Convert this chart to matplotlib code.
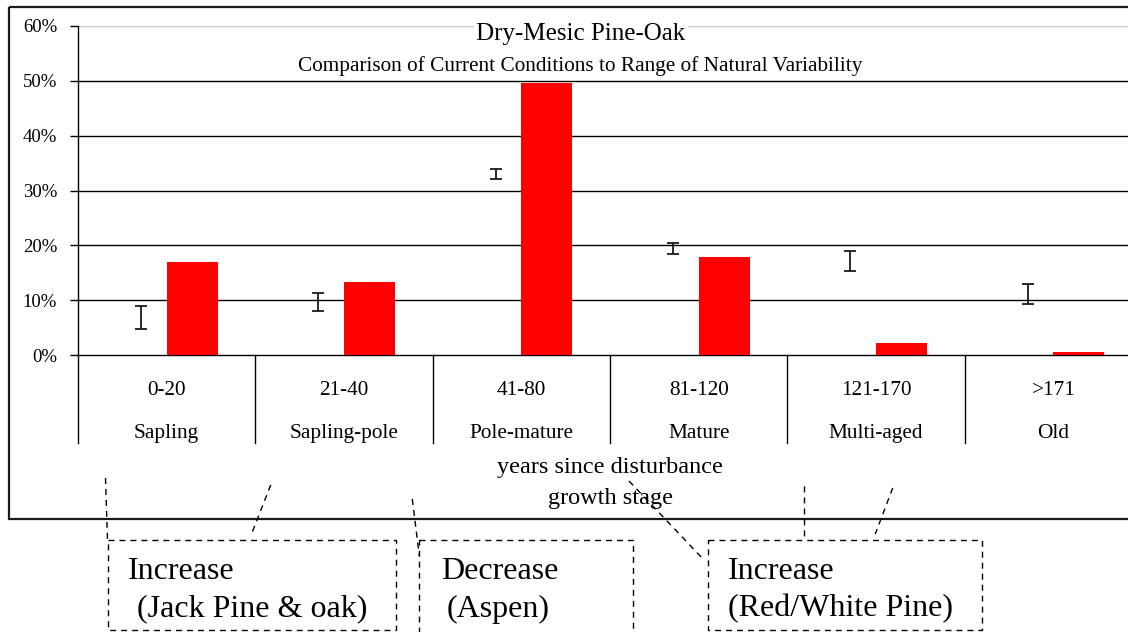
import numpy as np
import matplotlib
matplotlib.use("Agg")
import matplotlib.pyplot as plt
import matplotlib.transforms as mtransforms
from matplotlib.patches import Rectangle
from matplotlib.ticker import FuncFormatter

plt.rcParams['font.family'] = ['Liberation Serif', 'DejaVu Serif']

# age classes / growth stages
age_ranges = ['0-20', '21-40', '41-80', '81-120', '121-170', '>171']
stages = ['Sapling', 'Sapling-pole', 'Pole-mature', 'Mature', 'Multi-aged', 'Old']

# current conditions (share of area)
current = [0.169, 0.133, 0.496, 0.179, 0.022, 0.005]

# range of natural variability (low, high)
rnv_low = [0.047, 0.080, 0.321, 0.185, 0.153, 0.093]
rnv_high = [0.090, 0.113, 0.340, 0.205, 0.189, 0.129]

W, H = 1128, 632
fig = plt.figure(figsize=(W / 100, H / 100), dpi=100)
fig.patch.set_facecolor('white')

# overlay in pixel units for frame, callout boxes and text
ov = fig.add_axes([0, 0, 1, 1])
ov.set_xlim(0, W)
ov.set_ylim(H, 0)
ov.set_axis_off()

# main plot area: 78..1142 px wide, 26..355 px tall
ax = fig.add_axes([78 / W, (H - 355) / H, 1064 / W, 329 / H])
ax.set_facecolor('none')

n = len(age_ranges)
x = np.arange(n)
bw = 0.288

ax.bar(x + bw / 2, current, width=bw, color='#ff0000', zorder=3)

lo = np.array(rnv_low)
hi = np.array(rnv_high)
ax.errorbar(x - bw / 2, (lo + hi) / 2, yerr=(hi - lo) / 2, fmt='none',
            ecolor='#1a1a1a', elinewidth=1.3, capsize=4.5, capthick=1.3, zorder=4)

ax.set_xlim(-0.5, n - 0.5)
ax.set_ylim(0, 0.6)
ax.set_yticks(np.arange(0, 0.61, 0.1))
ax.yaxis.set_major_formatter(FuncFormatter(lambda v, p: '{:.0f}%'.format(v * 100)))
ax.tick_params(axis='y', direction='out', length=6, width=1.0, pad=9, labelsize=13.5)
ax.set_xticks([])

for yv in np.arange(0.1, 0.51, 0.1):
    ax.axhline(yv, color='black', lw=1.0, zorder=1)
ax.axhline(0.6, color='#c8c8c8', lw=1.0, zorder=1)

for side in ['top', 'right']:
    ax.spines[side].set_visible(False)
ax.spines['left'].set_linewidth(1.0)
ax.spines['bottom'].set_linewidth(1.0)

# category table below the axis
trans = mtransforms.blended_transform_factory(ax.transData, ax.transAxes)
for b in np.arange(-0.5, n, 1.0):
    ax.plot([b, b], [0, -0.2675], transform=trans, color='black', lw=1.0, clip_on=False)
for i in range(n):
    ax.text(x[i], -0.1205, age_ranges[i], transform=trans, ha='center', va='baseline', fontsize=15.3)
    ax.text(x[i], -0.2520, stages[i], transform=trans, ha='center', va='baseline', fontsize=15.3)

# titles (title box hides the top gridline)
ax.text(581, 40, 'Dry-Mesic Pine-Oak', transform=ov.transData, ha='center', va='baseline',
        fontsize=18, zorder=6, bbox=dict(facecolor='white', edgecolor='none', pad=1.5))
ov.text(580, 70.5, 'Comparison of Current Conditions to Range of Natural Variability',
        ha='center', va='baseline', fontsize=15.3)
ov.text(610, 473, 'years since disturbance', ha='center', va='baseline', fontsize=17.5)
ov.text(610, 504, 'growth stage', ha='center', va='baseline', fontsize=17.5)

# chart frame (runs off the right edge)
ov.add_patch(Rectangle((9, 7), 1200, 512, fill=False, edgecolor='#1a1a1a', lw=1.6))

# dashed callouts
dash = dict(color='black', lw=1.0, linestyle=(0, (4.3, 3.6)))
for (x0, y0, x1, y1) in [(107.7, 540, 396, 630), (419.3, 540, 633, 660), (707.7, 540, 982, 630)]:
    ov.add_patch(Rectangle((x0, y0), x1 - x0, y1 - y0, fill=False, **dash))

for (xa, ya, xb, yb) in [(105.5, 478, 107.5, 540), (270.7, 485, 252.3, 532),
                         (412.3, 499, 419.3, 556), (629, 481, 704, 560),
                         (804, 486, 804, 540), (892.7, 488, 875.3, 534)]:
    ov.plot([xa, xb], [ya, yb], **dash)

ov.text(128, 579, 'Increase', ha='left', va='baseline', fontsize=23)
ov.text(137, 616.5, '(Jack Pine & oak)', ha='left', va='baseline', fontsize=23)
ov.text(441, 579, 'Decrease', ha='left', va='baseline', fontsize=23)
ov.text(447, 616.5, '(Aspen)', ha='left', va='baseline', fontsize=23)
ov.text(728, 579, 'Increase', ha='left', va='baseline', fontsize=23)
ov.text(728, 616.5, '(Red/White Pine)', ha='left', va='baseline', fontsize=23)

fig.savefig('out.png', dpi=100)
